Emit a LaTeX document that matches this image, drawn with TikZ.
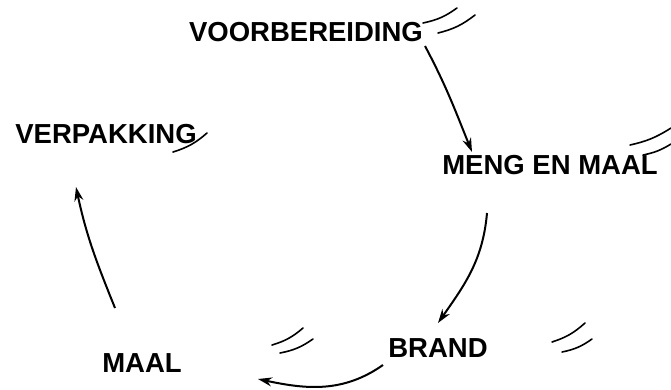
\documentclass[tikz,border=0pt]{standalone}
\usepackage{fontspec}
\setmainfont{Liberation Sans}
\usetikzlibrary{arrows.meta}
\begin{document}
\begin{tikzpicture}[
    x=1pt, y=1pt,
    every node/.style={draw=none, inner sep=0pt, font=\bfseries\fontsize{27.5}{30}\selectfont},
    flow/.style={draw, line width=2pt, -{Stealth[length=14pt,width=9pt]}},
    hash/.style={draw, line width=1.6pt, line cap=round}
]
\useasboundingbox (0,0) rectangle (671,389);
\node (voor)  at (306,357) {VOORBEREIDING};
\node (meng)  at (550,224) {MENG EN MAAL};
\node (brand) at (438,41)  {BRAND};
\node (maal)  at (142,26)  {MAAL};
\node (verp)  at (106,255) {VERPAKKING};
% the cycle
\draw[flow] ([shift={(119,-14)}]voor.center) to[out=-62,in=112] ([shift={(-78,13)}]meng.center);
\draw[flow] ([shift={(-63,-48)}]meng.center) to[out=-95,in=55] ([shift={(0,25)}]brand.center);
\draw[flow] ([shift={(-55,-17)}]brand.center) to[out=-145,in=-12] ([shift={(116,-16)}]maal.center);
\draw[flow] ([shift={(-27,55)}]maal.center) to[out=112,in=-78] ([shift={(-30,-53)}]verp.center);
% hand marks
\draw[hash] (423,366) to[bend right=12] (457,381);
\draw[hash] (438,356) to[bend right=12] (475,374);
\draw[hash] (630,244) to[bend right=10] (671,261);
\draw[hash] (643,234) to[bend right=10] (671,245);
\draw[hash] (173,237) to[bend right=12] (207,256);
\draw[hash] (552,47) to[bend right=12] (585,66);
\draw[hash] (562,37) to[bend right=12] (592,50);
\draw[hash] (272,44) to[bend right=12] (303,61);
\draw[hash] (280,36) to[bend right=12] (313,50);
\end{tikzpicture}
\end{document}
